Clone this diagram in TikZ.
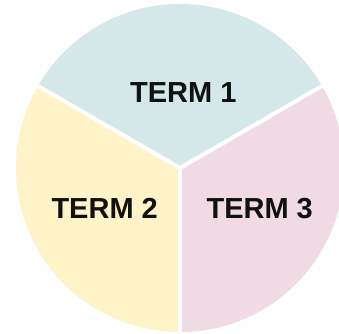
\documentclass[tikz,border=0pt]{standalone}
\usepackage{fontspec}
\setmainfont{Liberation Sans}
\usetikzlibrary{calc}
\definecolor{tealbg}{HTML}{D4E8E9}
\definecolor{yellowbg}{HTML}{FFF3C8}
\definecolor{pinkbg}{HTML}{F0DAE4}
\definecolor{txt}{HTML}{111111}
\tikzset{
  termlabel/.style={font=\fontsize{29}{31}\selectfont\bfseries, text=txt, inner sep=0pt, anchor=base},
  gapline/.style={draw=white, line width=4pt}
}
\begin{document}
\begin{tikzpicture}[x=1pt,y=1pt]
\useasboundingbox (0,0) rectangle (339,333);
\clip (0,0) rectangle (339,333);
\fill[white] (0,0) rectangle (339,333);
\coordinate (C) at (180,165);
\fill[tealbg] (C) -- ++(30:164pt) arc[start angle=30, end angle=150, radius=164pt] -- cycle;
\fill[yellowbg] (C) -- ++(150:164pt) arc[start angle=150, end angle=270, radius=164pt] -- cycle;
\fill[pinkbg] (C) -- ++(270:164pt) arc[start angle=270, end angle=390, radius=164pt] -- cycle;
\coordinate (E1) at ($(C)+(30:170pt)$);
\coordinate (E2) at ($(C)+(150:170pt)$);
\coordinate (E3) at ($(C)+(270:170pt)$);
\draw[gapline] (C) -- (E1);
\draw[gapline] (C) -- (E2);
\draw[gapline] (C) -- (E3);
\node[termlabel] (t1) at (183.3,230.7) {TERM 1};
\node[termlabel] (t2) at (104.7,115) {TERM 2};
\node[termlabel] (t3) at (259.7,115) {TERM 3};
\end{tikzpicture}
\end{document}
